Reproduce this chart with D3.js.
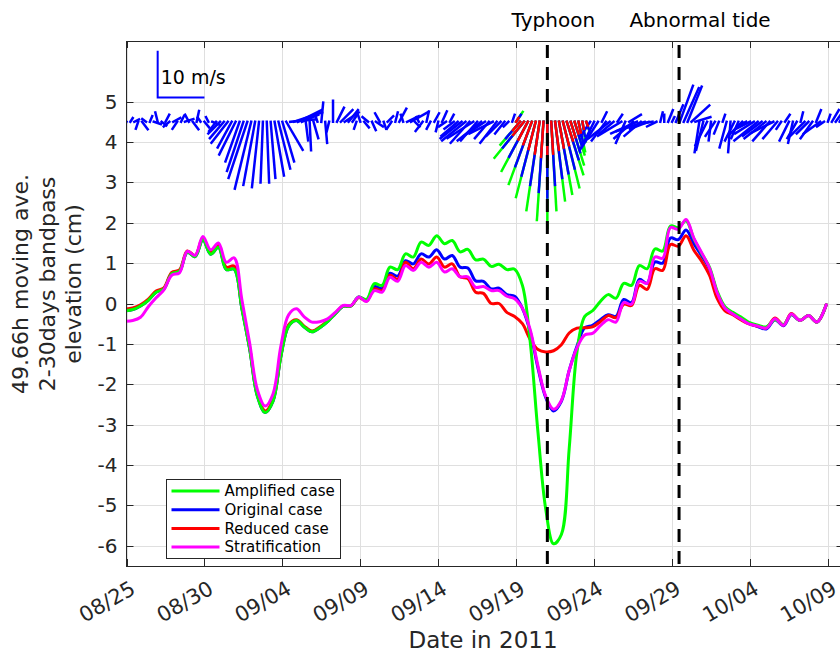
<!DOCTYPE html>
<meta charset="utf-8">
<svg width="840" height="653"></svg>
<style>
  body { margin: 0; }
  svg { display: block; background: #fff; font-family: "DejaVu Sans", sans-serif; }
</style>
<script src="https://cdn.jsdelivr.net/npm/d3@7/dist/d3.min.js"></script>
<script>
// time origin: 2011-08-25 00:00, all times below are days after it
var start = new Date(2011, 7, 25);
var toDate = function(d) { return new Date(+start + d * 864e5); };

var xTickLabels = ["08/25", "08/30", "09/04", "09/09", "09/14", "09/19", "09/24", "09/29", "10/04", "10/09"];
var yTicks = [-6, -5, -4, -3, -2, -1, 0, 1, 2, 3, 4, 5];

var eventDays = [27.0, 35.45];
var eventNames = ["Typhoon", "Abnormal tide"];

var seriesNames = ["Amplified case", "Original case", "Reduced case", "Stratification"];
var seriesColors = ["#00ff00", "#0000ff", "#ff0000", "#ff00ff"];

// 49.66h moving average of 2-30 day bandpassed elevation (cm)
var days = [-0.1, 0.4, 0.9, 1.4, 1.9, 2.4, 2.9, 3.4, 3.9, 4.4, 4.9, 5.4, 5.9, 6.4, 6.9, 7.4, 7.9, 8.4, 8.9, 9.4,
  9.9, 10.4, 10.9, 11.4, 11.9, 12.4, 12.9, 13.4, 13.9, 14.4, 14.9, 15.4, 15.9, 16.4, 16.9, 17.4, 17.9, 18.4, 18.9, 19.4,
  19.9, 20.4, 20.9, 21.4, 21.9, 22.4, 22.9, 23.4, 23.9, 24.4, 24.9, 25.4, 25.9, 26.4, 26.9, 27.4, 27.9, 28.4, 28.9, 29.4,
  29.9, 30.4, 30.9, 31.4, 31.9, 32.4, 32.9, 33.4, 33.9, 34.4, 34.9, 35.4, 35.9, 36.4, 36.9, 37.4, 37.9, 38.4, 38.9, 39.4,
  39.9, 40.5, 41.05, 41.6, 42.15, 42.65, 43.2, 43.75, 44.3, 44.92];

var amplified = [-0.18, -0.15, -0.06, 0.08, 0.28, 0.36, 0.74, 0.80, 1.27, 1.16, 1.58, 1.22, 1.39, 0.84, 0.85, -0.12, -1.12, -2.30, -2.70, -2.42,
  -1.32, -0.56, -0.42, -0.58, -0.70, -0.60, -0.45, -0.25, -0.07, -0.06, 0.16, 0.10, 0.49, 0.45, 0.90, 0.84, 1.23, 1.15, 1.52, 1.44,
  1.68, 1.48, 1.56, 1.28, 1.34, 1.08, 1.10, 0.92, 0.97, 0.84, 0.85, 0.45, -0.95, -3.20, -5.10, -5.95, -5.72, -3.60, -1.20, -0.32,
  -0.18, 0.05, 0.22, 0.13, 0.50, 0.45, 0.94, 0.86, 1.35, 1.30, 1.92, 1.88, 2.05, 1.60, 1.24, 0.90, 0.30, -0.08, -0.22, -0.33,
  -0.46, -0.54, -0.58, -0.40, -0.52, -0.27, -0.42, -0.30, -0.46, 0.00];

var original = [-0.18, -0.15, -0.06, 0.08, 0.28, 0.36, 0.74, 0.80, 1.27, 1.16, 1.58, 1.22, 1.39, 0.84, 0.85, -0.12, -1.12, -2.30, -2.70, -2.42,
  -1.32, -0.56, -0.42, -0.58, -0.70, -0.60, -0.45, -0.25, -0.07, -0.06, 0.16, 0.08, 0.42, 0.37, 0.75, 0.68, 1.06, 0.98, 1.23, 1.15,
  1.33, 1.10, 1.19, 0.90, 0.88, 0.56, 0.55, 0.36, 0.38, 0.22, 0.18, -0.12, -0.70, -1.60, -2.33, -2.66, -2.42, -1.66, -1.06, -0.60,
  -0.54, -0.40, -0.28, -0.32, 0.10, 0.02, 0.60, 0.50, 1.03, 1.00, 1.62, 1.58, 1.82, 1.48, 1.18, 0.86, 0.26, -0.12, -0.25, -0.36,
  -0.49, -0.57, -0.63, -0.40, -0.55, -0.28, -0.42, -0.30, -0.46, 0.00];

var reduced = [-0.14, -0.11, -0.03, 0.11, 0.31, 0.39, 0.77, 0.83, 1.30, 1.19, 1.62, 1.27, 1.44, 0.90, 0.93, -0.08, -1.08, -2.26, -2.66, -2.38,
  -1.29, -0.53, -0.40, -0.56, -0.68, -0.58, -0.43, -0.24, -0.06, -0.06, 0.15, 0.06, 0.36, 0.32, 0.70, 0.60, 1.02, 0.86, 1.10, 0.98,
  1.15, 0.90, 0.98, 0.66, 0.62, 0.28, 0.25, 0.00, 0.00, -0.22, -0.32, -0.50, -0.89, -1.14, -1.20, -1.17, -1.02, -0.73, -0.61, -0.60,
  -0.58, -0.45, -0.30, -0.35, -0.02, -0.05, 0.45, 0.35, 0.86, 0.82, 1.46, 1.42, 1.68, 1.32, 1.05, 0.70, 0.12, -0.18, -0.28, -0.40,
  -0.50, -0.56, -0.60, -0.36, -0.53, -0.25, -0.42, -0.30, -0.46, 0.00];

var stratification = [-0.44, -0.42, -0.34, -0.08, 0.14, 0.34, 0.70, 0.76, 1.29, 1.19, 1.66, 1.33, 1.50, 1.02, 1.13, 0.10, -0.98, -2.14, -2.54, -2.24,
  -1.06, -0.28, -0.13, -0.33, -0.46, -0.45, -0.38, -0.22, -0.05, -0.05, 0.16, 0.05, 0.32, 0.28, 0.65, 0.55, 0.94, 0.82, 1.02, 0.90,
  1.02, 0.78, 0.86, 0.66, 0.66, 0.40, 0.42, 0.32, 0.32, 0.18, 0.12, -0.12, -0.65, -1.55, -2.30, -2.62, -2.40, -1.66, -1.10, -0.78,
  -0.74, -0.55, -0.40, -0.46, 0.02, -0.02, 0.55, 0.50, 1.15, 1.12, 1.88, 1.84, 2.08, 1.62, 1.26, 0.88, 0.26, -0.12, -0.26, -0.38,
  -0.50, -0.56, -0.61, -0.38, -0.54, -0.26, -0.42, -0.30, -0.46, 0.00];

// wind (m/s), every 6 h from 08/25 00:00, one row per day
var windU = [
  -1.0, 0.5, 1.0, -0.5,   1.2, -0.8, 0.5, 1.5,   -0.5, 1.0, 0.8, -1.2,   1.5, -1.0, 0.6, 1.8,   -0.8, 1.2, 0.5, -0.6,
  1.0, -0.5, 1.5, -1.5,   -2.5, -3.0, -3.5, -3.0,   -3.5, -3.0, -3.5, -4.0,   -3.5, -2.5, -1.5, -0.5,   0.5, 1.0, 2.0, 2.5,
  2.5, 3.5, 5.5, 6.0,   5.0, 3.5, 0.5, 0.3,   1.0, -0.5, 0.4, 0.4,   -0.5, 0.0, 1.5, 2.5,   3.0, 2.0, 1.0, -0.5,
  -0.5, 1.0, -1.2, 0.8,   1.5, -1.0, 0.5, 1.2,   -1.0, 0.5, 1.5, -0.5,   2.5, 3.5, 1.0, -0.5,   -1.5, 0.5, -0.8, 1.0,
  -0.5, 1.0, -1.5, 0.8,   -2.0, -3.5, -4.5, -5.0,   -4.0, -5.5, -3.5, -5.0,   -4.5, -3.0, -5.0, -3.5,   -3.0, -2.0, -1.0, 0.5,
  1.0, -3.0, -4.5, -4.0,   -3.5, -3.0, -2.0, -1.0,   0.0, 0.8, 1.5, 2.0,   2.5, 2.5, 2.0, 1.5,   1.0, 0.5, 0.5, -2.0,
  -3.0, -3.5, 1.0, -3.0,   -4.5, -3.0, 1.0, -5.0,   -2.0, 2.5, -4.0, -5.5,   -3.5, -6.0, -4.0, -3.0,   -2.0, 0.5, 0.0, 1.0,
  0.5, 1.5, 2.8, 3.2,   3.0, 3.8, 3.2, -1.0,   -1.5, -2.5, -0.5, -2.0,   -1.0, 0.5, -1.5, -0.5,   -2.0, -1.5, -3.0, -2.0,
  -3.0, -4.0, -5.0, -4.0,   -4.5, -3.5, -5.0, -3.0,   -1.0, 1.0, -2.0, -1.0,   -2.0, 0.5, -3.0, -2.5,   -2.5, 1.0, -3.5, -1.5,
  0.5, 1.5, 2.5, 2.0];
var windV = [
  -1.8, 0.8, 0.5, -1.5,   -1.6, 0.6, 1.2, -0.5,   2.0, -0.8, 1.5, -1.0,   0.8, -1.5, 1.2, 0.6,   1.5, -1.6, 2.3, 0.9,
  -1.2, 1.0, -0.6, -2.0,   -2.5, -3.5, -4.5, -5.5,   -7.0, -8.5, -10.5, -12.0,   -14.3, -13.5, -14.0, -13.0,   -13.0, -12.0, -11.5, -10.0,
  -8.5, -6.0, 0.5, 2.0,   2.5, 1.5, -4.0, -6.1,   -3.5, 1.5, 4.1, -4.5,   -2.0, 4.5, 3.0, 2.5,   2.0, 2.5, 1.5, -1.5,
  1.5, -1.2, 1.0, -1.8,   -1.0, 1.8, -1.5, 1.2,   -1.5, 2.0, 2.8, 1.5,   1.2, 2.0, -1.0, 1.0,   -2.0, 2.2, -1.5, 1.8,
  -2.0, 2.2, -1.0, 1.5,   -1.5, -3.0, -3.5, -4.0,   -4.5, -3.5, -4.0, -4.0,   -3.0, -3.5, -2.5, -4.5,   -3.0, -2.5, -1.0, 1.5,
  1.5, -3.5, -5.5, -7.5,   -9.5, -11.5, -13.5, -15.0,   -16.2, -13.5, -12.0, -11.0,   -10.0, -8.0, -6.5, -5.0,   -4.5, -3.0, -1.5, -3.0,
  -6.0, -5.5, 2.0, -4.0,   -3.5, -2.5, 1.5, -3.0,   -4.5, 1.5, -3.5, -2.5,   -3.0, -2.0, -1.5, -0.5,   -1.0, 2.0, 1.5, 2.5,
  1.0, 3.5, 7.7, 7.2,   7.5, 3.5, 1.0, -6.5,   -6.0, -5.0, -4.0, -3.0,   -2.5, 1.5, -5.5, -6.5,   -4.0, -3.5, -3.0, -1.0,
  -1.5, -2.5, -4.0, -3.0,   -3.5, -4.0, -2.5, -3.5,   -1.5, 1.5, -4.0, -4.5,   -3.5, 2.0, -3.0, -2.5,   -3.5, 2.5, -2.5, -1.0,
  1.5, 2.5, 3.5, 4.0];

// amplified / reduced typhoon wind, every 6 h from 09/19 00:00
var typhoonStart = 25;
var ampU = [1.4, -4.2, -6.3, -5.6, -4.9, -4.2, -2.8, -1.4, 0.0, 1.1, 2.1, 2.8, 3.5, 3.5, 2.8, 2.1, 1.4, 0.7, 0.7];
var ampV = [2.1, -4.9, -7.7, -10.5, -13.3, -16.1, -18.9, -21.0, -22.7, -18.9, -16.8, -15.4, -14.0, -11.2, -9.1, -7.0, -6.3, -4.2, -2.1];
var redU = [0.5, -1.5, -2.3, -2.0, -1.8, -1.5, -1.0, -0.5, 0.0, 0.4, 0.8, 1.0, 1.3, 1.3, 1.0, 0.8, 0.5, 0.3, 0.3];
var redV = [0.8, -1.8, -2.8, -3.8, -4.8, -5.8, -6.8, -7.5, -8.1, -6.8, -6.0, -5.5, -5.0, -4.0, -3.3, -2.5, -2.3, -1.5, -0.8];

var svg = d3.select("svg"),
    margin = {top: 41, left: 126.5, bottom: 87, right: -3.5},
    W = +svg.attr("width"), H = +svg.attr("height");

var x = d3.scaleTime()
    .domain([toDate(0), toDate(46)])
    .range([margin.left, W - margin.right]);
var y = d3.scaleLinear()
    .domain([-6.5, 6.5])
    .range([H - margin.bottom, margin.top]);

var x0 = x.range()[0], x1 = x.range()[1], y0 = y.range()[0], y1 = y.range()[1];
var tickDates = xTickLabels.map(function(s) { return d3.timeParse("%Y/%m/%d")("2011/" + s); });
var axisColor = "#262626";

svg.append("defs").append("clipPath").attr("id", "plot")
  .append("rect").attr("x", x0).attr("y", y1).attr("width", x1 - x0).attr("height", y0 - y1);

// grid
var grid = svg.append("g").attr("stroke", "#dfdfdf").attr("stroke-width", 1);
grid.selectAll(".gx").data(tickDates).enter().append("line")
  .attr("x1", function(d) { return Math.round(x(d)) + 0.5; })
  .attr("x2", function(d) { return Math.round(x(d)) + 0.5; })
  .attr("y1", y1).attr("y2", y0);
grid.selectAll(".gy").data(yTicks).enter().append("line")
  .attr("x1", x0).attr("x2", x1)
  .attr("y1", function(d) { return Math.round(y(d)) + 0.5; })
  .attr("y2", function(d) { return Math.round(y(d)) + 0.5; });

var plot = svg.append("g").attr("clip-path", "url(#plot)");

// wind sticks
var k = (x(toDate(3)) - x(toDate(0))) / 10;   // 10 m/s == 3 days
var base = y(4.5);
function sticks(us, vs, t0, color) {
  var d = us.map(function(u, i) { return [t0 + i * 0.25, u, vs[i]]; });
  plot.append("g").attr("stroke", color).attr("stroke-width", 2.5).attr("stroke-linecap", "square")
    .selectAll("line").data(d).enter().append("line")
    .attr("x1", function(d) { return x(toDate(d[0])); })
    .attr("y1", base)
    .attr("x2", function(d) { return x(toDate(d[0])) + d[1] * k; })
    .attr("y2", function(d) { return base - d[2] * k; });
}
sticks(ampU, ampV, typhoonStart, seriesColors[0]);
sticks(windU, windV, 0, seriesColors[1]);
sticks(redU, redV, typhoonStart, seriesColors[2]);

// scale bar
var sb = [x(toDate(2)), y(5.1)];
svg.append("path")
  .attr("d", "M" + sb[0] + "," + (sb[1] - 10 * k) + "V" + sb[1] + "H" + (sb[0] + 10 * k))
  .attr("fill", "none").attr("stroke", "#0000ff").attr("stroke-width", 2);
svg.append("text").attr("x", sb[0] + 3).attr("y", sb[1] - 14)
  .attr("font-size", 19).attr("fill", "#000").text("10 m/s");

// elevation lines
var line = d3.line()
  .x(function(d) { return x(toDate(d[0])); })
  .y(function(d) { return y(d[1]); })
  .curve(d3.curveCatmullRom.alpha(0.5));
var series = [amplified, original, reduced, stratification];
[1, 2, 0, 3].forEach(function(i) {
  plot.append("path")
    .datum(days.map(function(t, j) { return [t, series[i][j]]; }))
    .attr("fill", "none").attr("stroke", seriesColors[i]).attr("stroke-width", 3)
    .attr("stroke-linejoin", "round").attr("d", line);
});

// event lines
svg.selectAll(".ev").data(eventDays).enter().append("line")
  .attr("x1", function(d) { return x(toDate(d)); })
  .attr("x2", function(d) { return x(toDate(d)); })
  .attr("y1", y1 + 4).attr("y2", y0)
  .attr("stroke", "#000").attr("stroke-width", 3).attr("stroke-dasharray", "13,9");
svg.selectAll(".evt").data(eventDays).enter().append("text")
  .attr("x", function(d, i) { return x(toDate(d)) + [6, 21][i]; })
  .attr("y", 27).attr("text-anchor", "middle").attr("font-size", 20).attr("fill", "#000")
  .text(function(d, i) { return eventNames[i]; });

// axes box and ticks
var ax = svg.append("g").attr("stroke", axisColor).attr("stroke-width", 1).attr("fill", "none");
ax.append("rect").attr("x", x0).attr("y", y1 + 0.5).attr("width", x1 - x0).attr("height", y0 - y1);
tickDates.forEach(function(d) {
  var px = Math.round(x(d)) + 0.5;
  ax.append("path").attr("d", "M" + px + "," + y0 + "v-7M" + px + "," + y1 + "v7");
});
yTicks.forEach(function(v) {
  var py = Math.round(y(v)) + 0.5;
  ax.append("path").attr("d", "M" + x0 + "," + py + "h7M" + x1 + "," + py + "h-7");
});

var labels = svg.append("g").attr("fill", axisColor).attr("font-size", 20);
labels.selectAll(".yl").data(yTicks).enter().append("text")
  .attr("x", x0 - 9).attr("y", function(d) { return y(d); }).attr("dy", "0.35em")
  .attr("text-anchor", "end").text(function(d) { return d; });
labels.selectAll(".xl").data(tickDates).enter().append("text")
  .attr("transform", function(d) { return "translate(" + (x(d) + 3) + "," + (y0 + 14) + ") rotate(-30)"; })
  .attr("text-anchor", "end").attr("dy", "0.7em").attr("font-size", 21)
  .text(function(d, i) { return xTickLabels[i]; });

svg.append("text").attr("x", (x0 + x1) / 2 - 2).attr("y", 648).attr("text-anchor", "middle")
  .attr("font-size", 23).attr("fill", axisColor).text("Date in 2011");
var ylab = ["49.66h moving ave.", "2-30days bandpass", "elevation (cm)"];
svg.selectAll(".ylab").data(ylab).enter().append("text")
  .attr("transform", function(d, i) { return "translate(" + (28 + i * 26.5) + ",284) rotate(-90)"; })
  .attr("text-anchor", "middle").attr("font-size", 22).attr("fill", axisColor)
  .text(function(d) { return d; });

// legend
var lg = svg.append("g").attr("transform", "translate(166.5,479.5)");
lg.append("rect").attr("width", 174).attr("height", 79).attr("fill", "#fff").attr("stroke", axisColor);
seriesNames.forEach(function(n, i) {
  var ly = 11.5 + i * 18.7;
  lg.append("line").attr("x1", 5).attr("x2", 53).attr("y1", ly).attr("y2", ly)
    .attr("stroke", seriesColors[i]).attr("stroke-width", 3);
  lg.append("text").attr("x", 58).attr("y", ly).attr("dy", "0.35em")
    .attr("font-size", 15).attr("fill", "#000").text(n);
});
</script>
